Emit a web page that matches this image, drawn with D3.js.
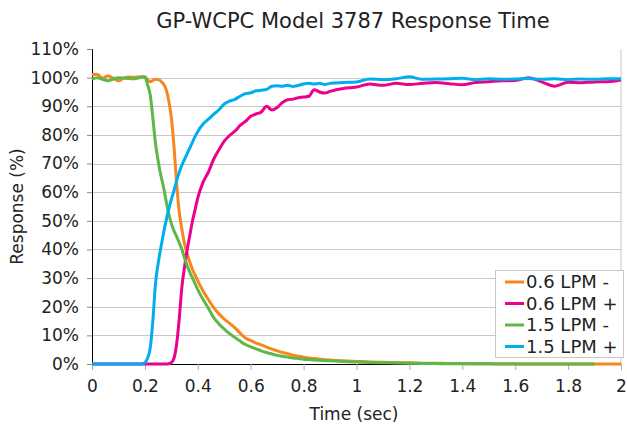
<!DOCTYPE html>
<html>
<head>
<meta charset="utf-8">
<script src="https://cdn.jsdelivr.net/npm/d3@7"></script>
<style>
  body { margin: 0; background: #fff; }
  text { font-family: "DejaVu Sans", sans-serif; fill: #222; }
</style>
</head>
<body>
<div id="chart"></div>
<script>
// time axis (sec)
const times = [0, 0.02, 0.04, 0.06, 0.08, 0.1, 0.12, 0.14, 0.16, 0.18,
  0.19, 0.2, 0.21, 0.22, 0.23, 0.24, 0.25, 0.26, 0.27, 0.28, 0.29, 0.3, 0.31, 0.32, 0.33, 0.34, 0.35, 0.36, 0.37, 0.38, 0.39, 0.4,
  0.42, 0.44, 0.46, 0.48, 0.5, 0.52, 0.54, 0.56, 0.58, 0.6, 0.62, 0.64, 0.66, 0.68, 0.7, 0.72, 0.74, 0.76, 0.78, 0.8, 0.82, 0.84, 0.86, 0.88, 0.9,
  0.95, 1.0, 1.05, 1.1, 1.15, 1.2, 1.25, 1.3, 1.35, 1.4, 1.45, 1.5, 1.55, 1.6, 1.65, 1.7, 1.75, 1.8, 1.85, 1.9, 1.95, 2.0];

// response (%) per series
const lpm06minus = [101, 101.2, 99.8, 100.7, 99.8, 98.9, 99.8, 100.2, 100.1, 100.3,
  100.2, 100.2, 99.3, 98.6, 99.0, 99.4, 99.3, 98.8, 97.8, 96, 92, 86, 76, 63, 53, 47, 42, 38.5, 35.5, 33, 31, 29,
  25.5, 22.5, 19.7, 17.5, 15.7, 14.2, 12.7, 10.8, 9.1, 8.2, 7.3, 6.7, 5.9, 5.2, 4.6, 4.0, 3.6, 3.1, 2.7, 2.4, 2.1, 1.9, 1.7, 1.5, 1.4,
  1.1, 0.9, 0.7, 0.6, 0.5, 0.4, 0.3, 0.25, 0.2, 0.15, 0.1, 0.1, 0.05, 0.05, 0, 0, 0, 0, 0, 0, 0, 0];

const lpm06plus = [0, 0, 0, 0, 0, 0, 0, 0, 0, 0,
  0, 0, 0, 0, 0, 0, 0, 0, 0, 0, 0.1, 0.5, 2, 7, 16, 27, 34, 40, 45, 50, 54, 58,
  63.5, 67, 71.5, 74.8, 77.8, 79.8, 81.3, 83.3, 84.7, 86.5, 87.3, 88, 90, 88.7, 89.6, 91.3, 92.3, 92.5, 93, 93.2, 93.5, 95.8, 95, 94.6, 95.2,
  96.2, 96.7, 97.8, 97.3, 98, 97.6, 98, 98.3, 97.9, 97.5, 98.3, 98.6, 98.9, 99, 100, 98.5, 97, 98.4, 98.2, 98.5, 98.6, 99.2];

const lpm15minus = [99.5, 100, 99.4, 98.9, 99.5, 100, 99.9, 99.7, 99.6, 100,
  100.3, 100.2, 97.5, 94, 86, 77, 71, 66, 62, 57, 52.5, 49, 46.5, 44.5, 42.3, 40, 37, 34.3, 32, 30, 28, 26,
  22.5, 19.5, 16.2, 14, 12.2, 10.6, 9.3, 8, 6.8, 6.0, 5.3, 4.6, 4.0, 3.5, 3.0, 2.7, 2.4, 2.1, 1.9, 1.7, 1.55, 1.4, 1.3, 1.2, 1.1,
  0.9, 0.7, 0.55, 0.45, 0.35, 0.3, 0.2, 0.15, 0.1, 0.1, 0.05, 0.05, 0, 0, 0, 0, 0, 0, 0, 0];

const lpm15plus = [0, 0, 0, 0, 0, 0, 0, 0, 0, 0,
  0.1, 0.5, 2, 5.5, 15, 28, 35, 40.5, 45.5, 50, 54, 57.5, 60.5, 64, 67, 69.5, 71.5, 73.5, 75.5, 77.5, 79.5, 81.2,
  83.8, 85.5, 87.2, 88.8, 90.8, 91.8, 92.4, 93.5, 94.4, 94.7, 95.4, 95.6, 95.9, 97, 97.2, 97.0, 97.3, 96.9, 97.3, 97.8, 98, 97.8, 98, 97.6, 98,
  98.3, 98.5, 99.5, 99.3, 99.6, 100.3, 99.4, 99.5, 99.6, 99.8, 99.3, 99.6, 99.4, 99.5, 99.7, 99.4, 99.6, 99.3, 99.5, 99.4, 99.6, 99.6];

const seriesNames = ["0.6 LPM -", "0.6 LPM +", "1.5 LPM -", "1.5 LPM +"];
const seriesValues = [lpm06minus, lpm06plus, lpm15minus, lpm15plus];
const seriesColors = ["#f7861f", "#ec008c", "#5cb848", "#00aeef"];

const xTicks = [0, 0.2, 0.4, 0.6, 0.8, 1, 1.2, 1.4, 1.6, 1.8, 2];
const yTicks = [0, 10, 20, 30, 40, 50, 60, 70, 80, 90, 100, 110];

const W = 627, H = 432;
const margin = { top: 49, right: 6, bottom: 68, left: 92 };
const width = W - margin.left - margin.right;
const height = H - margin.top - margin.bottom;

const svg = d3.select("#chart").append("svg")
  .attr("width", W)
  .attr("height", H);

const g = svg.append("g")
  .attr("transform", "translate(" + margin.left + "," + margin.top + ")");

const x = d3.scaleLinear().domain([0, 2]).range([0, width]);
const y = d3.scaleLinear().domain([0, 110]).range([height, 0]);

// gridlines
g.append("g")
  .selectAll("line")
  .data(yTicks.filter(d => d > 0 && d < 110))
  .enter()
  .append("line")
  .attr("x1", 0).attr("x2", width)
  .attr("y1", d => Math.round(y(d)) + 0.5).attr("y2", d => Math.round(y(d)) + 0.5)
  .attr("stroke", "#c8c8c8");

// right border
g.append("line")
  .attr("x1", width).attr("x2", width)
  .attr("y1", 0).attr("y2", height)
  .attr("stroke", "#c8c8c8");

// y axis
const yAxis = g.append("g")
  .call(d3.axisLeft(y).tickValues(yTicks).tickFormat(d => d + "%").tickSize(5).tickPadding(8));
yAxis.select(".domain").attr("stroke", "#000");
yAxis.selectAll(".tick line").attr("stroke", "#888");
yAxis.selectAll("text").style("font-size", "17px").attr("fill", "#222");

// x axis
const xAxis = g.append("g")
  .attr("transform", "translate(0," + height + ")")
  .call(d3.axisBottom(x).tickValues(xTicks).tickFormat(d => d).tickSize(6).tickPadding(10));
xAxis.select(".domain").attr("stroke", "#000");
xAxis.selectAll(".tick line").attr("stroke", "#aaa");
xAxis.selectAll("text").style("font-size", "17px").attr("fill", "#222");

// lines
const line = d3.line()
  .x((d, i) => x(times[i]))
  .y(d => y(d))
  .curve(d3.curveMonotoneX);

g.append("g")
  .selectAll("path")
  .data(seriesValues)
  .enter()
  .append("path")
  .attr("fill", "none")
  .attr("stroke", (d, i) => seriesColors[i])
  .attr("stroke-width", 3)
  .attr("stroke-linejoin", "round")
  .attr("d", line);

// title and axis labels
svg.append("text")
  .attr("x", 353).attr("y", 28)
  .attr("text-anchor", "middle")
  .style("font-size", "21px")
  .text("GP-WCPC Model 3787 Response Time");

svg.append("text")
  .attr("x", 354).attr("y", 420)
  .attr("text-anchor", "middle")
  .style("font-size", "17px")
  .text("Time (sec)");

svg.append("text")
  .attr("transform", "translate(23," + (margin.top + height / 2) + ") rotate(-90)")
  .attr("text-anchor", "middle")
  .style("font-size", "17px")
  .text("Response (%)");

// legend
const legend = svg.append("g").attr("transform", "translate(495,270)");
legend.append("rect")
  .attr("x", 0.5).attr("y", 0.5)
  .attr("width", 128).attr("height", 87)
  .attr("fill", "#fff")
  .attr("stroke", "#c8c8c8");

const item = legend.selectAll(".item")
  .data(seriesNames)
  .enter()
  .append("g")
  .attr("class", "item")
  .attr("transform", (d, i) => "translate(0," + (12 + i * 21.5) + ")");
item.append("line")
  .attr("x1", 10).attr("x2", 29)
  .attr("stroke", (d, i) => seriesColors[i])
  .attr("stroke-width", 3);
item.append("text")
  .attr("x", 31).attr("y", 0)
  .attr("dy", "0.35em")
  .style("font-size", "18px")
  .text(d => d);
</script>
</body>
</html>
